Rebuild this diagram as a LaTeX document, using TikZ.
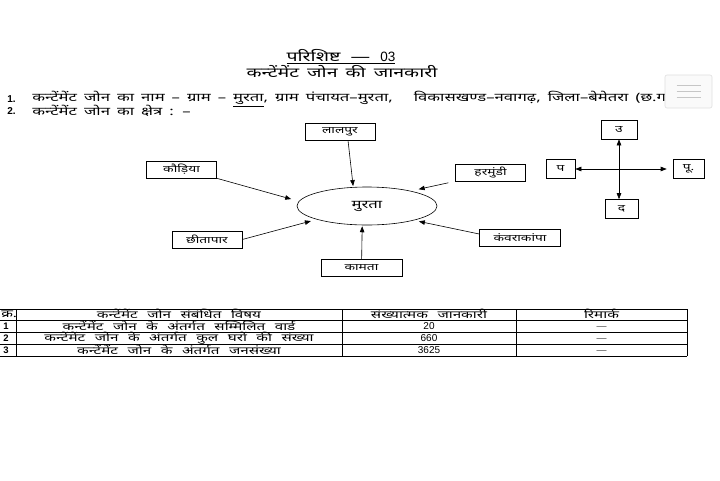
\documentclass[tikz,border=0pt]{standalone}
\usepackage{fontspec}
\setmainfont[Script=Devanagari,FakeStretch=1.45]{Noto Sans}
\newfontfamily\latin{Liberation Sans}
\usetikzlibrary{shapes.geometric,positioning,arrows.meta}

\tikzset{
  gaon/.style={draw,minimum width=70pt,minimum height=17pt,inner sep=1pt,font=\fontsize{9.5}{10}\selectfont},
  disha/.style={draw,minimum height=19pt,inner sep=1pt,font=\fontsize{9.5}{10}\selectfont},
  kshetra/.style={draw,ellipse,minimum width=140pt,minimum height=38pt,font=\bfseries\fontsize{11.5}{12}\selectfont},
  khana/.style={inner sep=0pt,font={\fontsize{10.5}{11}\selectfont\spaceskip=9.5pt\relax}},
  ank/.style={inner sep=0pt,text height=7pt,text depth=0pt,font=\latin\fontsize{10}{11}\selectfont},
  pankti/.style={anchor=west,inner sep=0pt,font={\fontsize{11.5}{12}\selectfont\spaceskip=7pt\relax}},
}

\begin{document}
\begin{tikzpicture}[x=1pt,y=-1pt,>={Triangle[length=6pt,width=4.5pt]},line width=0.6pt]
\useasboundingbox[fill=white] (0,0) rectangle (720,480);

% title
\node[font={\fontsize{13.5}{14}\selectfont},inner sep=0pt] (shirsh) at (341,57) {\underline{परिशिष्ट\ \ —\ \ {\latin 03}}};
\node[font={\fontsize{13.5}{14}\selectfont\spaceskip=8pt\relax},inner sep=0pt] (upshirsh) at (342,72) {कन्टेंमेंट जोन की जानकारी};

% points 1 and 2
\node[ank,font=\latin\bfseries\fontsize{10}{11}\selectfont,anchor=west] (n1) at (7,99) {1.};
\node[pankti] (l1) at (32,99) {कन्टेंमेंट जोन का नाम – ग्राम – \underline{मुरता}, ग्राम पंचायत–मुरता,\ \ \ विकासखण्ड–नवागढ़, जिला–बेमेतरा (छ.ग.)};
\node[ank,font=\latin\bfseries\fontsize{10}{11}\selectfont,anchor=west] (n2) at (7,111) {2.};
\node[pankti] (l2) at (32,111) {कन्टेंमेंट जोन का क्षेत्र : –};

% zone
\node[kshetra] (murta) at (367,206) {मुरता};
\node[gaon] (lalpur) at (340,131.5) {लालपुर};
\node[gaon] (kaudiya) at (181.5,169.5) {कौड़िया};
\node[gaon] (harmundi) at (490.5,172.5) {हरमुंडी};
\node[gaon] (chhitapar) at (207,239.5) {छीतापार};
\node[gaon,minimum width=81pt] (kanwara) at (520,238) {कंवराकांपा};
\node[gaon,minimum width=81pt] (kamta) at (361.5,268) {कामता};

\path[->]
([xshift=8pt]lalpur.south) edge[shorten >=1pt] (murta.126)
(kaudiya.south east) edge[shorten >=8pt] (murta.176)
(harmundi.south west) edge[shorten <=7pt,shorten >=8pt] (murta.19)
(chhitapar.east) edge[shorten >=6pt] (murta.195)
([yshift=4pt]kanwara.west) edge[shorten >=5pt] (murta.-17)
(kamta) edge[shorten >=1pt] (murta.-104)
;

% directions
\node[disha,minimum width=36pt] (uttar) at (619,129.5) {उ};
\node[disha,minimum width=29pt] (paschim) at (560.5,169) {प};
\node[disha,minimum width=31pt] (purv) at (688.5,169) {पू.};
\node[disha,minimum width=33pt] (dakshin) at (621.5,209) {द};
\draw[<->] (uttar.south) -- (uttar.south |- dakshin.north);
\draw[<->,shorten >=6pt] (paschim) -- (purv);

% table
\foreach \yy in {309,320,332,344,356}
  \draw (0,\yy) -- (687,\yy);
\foreach \xx in {16,342,516,687}
  \draw (\xx,309) -- (\xx,356);
\node[khana,anchor=west] (hd-kr) at (1,314) {\bfseries क्र.};
\node[khana] (hd-vishay) at (179,314) {\bfseries कन्टेंमेंट जोन संबंधित विषय};
\node[khana] (hd-ank) at (429,314) {संख्यात्मक जानकारी};
\node[khana] (hd-tip) at (601.5,314) {रिमार्क};
\foreach \nam/\yy/\kr/\vishay/\sankhya in {
  r1/326/1/{कन्टेंमेंट जोन के अंतर्गत सम्मिलित वार्ड}/20,
  r2/338/2/{कन्टेंमेंट जोन के अंतर्गत कुल घरों की संख्या}/660,
  r3/350/3/{कन्टेंमेंट जोन के अंतर्गत जनसंख्या}/3625}{
  \node[ank,font=\latin\bfseries\fontsize{9.5}{10}\selectfont,anchor=west] (\nam-kr) at (3,\yy) {\kr};
  \node[khana] (\nam-vishay) at (179,\yy) {\vishay};
  \node[ank] (\nam-ank) at (429,\yy) {\sankhya};
  \node[ank,text=black!70] (\nam-tip) at (601.5,\yy) {—};
}

% menu button
\node[draw=gray!25,fill=gray!4,rounded corners=2pt,minimum width=47pt,minimum height=33pt] (menu) at (688.5,91.5) {};
\foreach \dy in {-6,0,6}
  \draw[gray!45,line width=0.8pt] ([xshift=-12pt,yshift=\dy pt]menu.center) -- ([xshift=12pt,yshift=\dy pt]menu.center);
\end{tikzpicture}
\end{document}
